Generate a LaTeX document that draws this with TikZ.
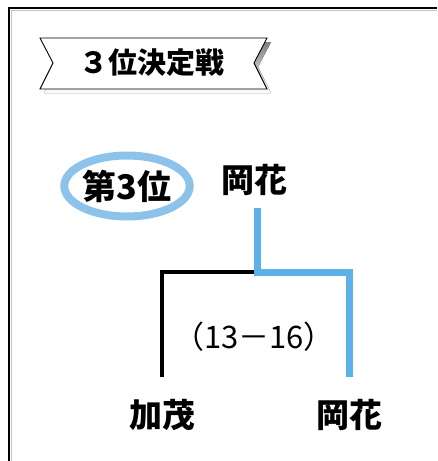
\documentclass[tikz,border=0pt]{standalone}
\usepackage{fontspec}
\usepackage{xcolor}
\usepackage{tikz}
\usetikzlibrary{calc,shapes.geometric}
\newfontfamily\jp{Noto Sans CJK JP}
\definecolor{ring}{HTML}{8DC3EB}
\definecolor{win}{HTML}{5BB1E8}
\definecolor{shade}{HTML}{C4C4C4}
\tikzset{
  frameline/.style={draw=black, line width=2.6pt},
  banner/.style={draw=black, fill=white, line width=0.9pt},
  winline/.style={draw=win, line width=7pt},
  loseline/.style={draw=black, line width=3.2pt},
  lab/.style={font=\jp\bfseries\fontsize{33}{35}\selectfont, inner sep=2pt},
}

\begin{document}
\begin{tikzpicture}[x=1pt, y=1pt]
  \useasboundingbox (0,0) rectangle (437,-461);

  % outer frame
  \draw[draw=shade, line width=1pt] (11,-461) -- (11,-10.5) -- (437,-10.5);
  \draw[frameline] (9,-461) -- (9,-8) -- (437,-8);

  % title ribbon
  \fill[shade] (44,-42) -- (271,-42) -- (258,-67) -- (271,-93) -- (44,-93) -- (57,-67) -- cycle;
  \draw[banner] (40,-38) -- (267,-38) -- (254,-63) -- (267,-89) -- (40,-89) -- (53,-63) -- cycle;
  \node[font=\jp\bfseries\fontsize{29}{31}\selectfont] (title) at (152,-63) {３位決定戦};

  % players and result
  \node[lab] (top) at (254,-180) {岡花};
  \node[ellipse, draw=ring, line width=8pt, minimum width=122pt, minimum height=61pt,
        font=\jp\bfseries\fontsize{34}{36}\selectfont, inner sep=0pt] (third) at (127,-186) {第3位};
  \node[lab] (kamo) at (162,-415) {加茂};
  \node[lab] (okabana) at (349,-415) {岡花};
  \node[font=\jp\fontsize{31}{33}\selectfont] (score) at (254,-337) {（13－16）};

  \coordinate (join) at (257,-272);
  \draw[loseline] ($(kamo.north)+(0,20)$) -- (kamo |- join) -- ($(join)+(-3.5,0)$);
  \draw[winline] ($(top.south)+(3,-10)$) |- (okabana |- join) -- ($(okabana.north)+(0,20)$);
\end{tikzpicture}
\end{document}
